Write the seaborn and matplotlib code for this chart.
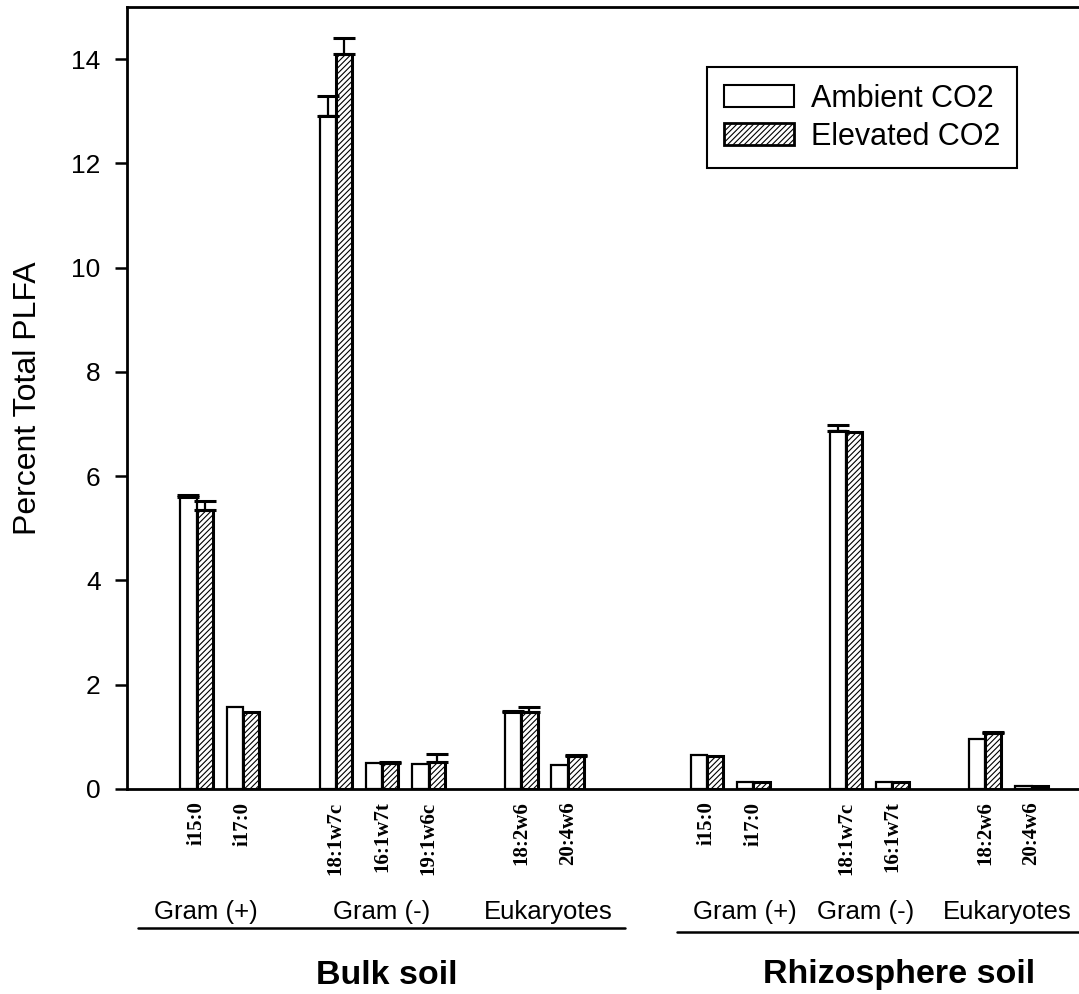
"""
PLFA markers, ambient vs elevated CO2, bulk and rhizosphere soil.
Grouped bars drawn with seaborn; gaps between groups are empty categories.
"""

import matplotlib
matplotlib.use("Agg")
import matplotlib.pyplot as plt
from matplotlib.patches import Patch
from matplotlib.lines import Line2D
import numpy as np
import pandas as pd
import seaborn as sns

# ── data ────────────────────────────────────────────────────────────────────
# slot keys, "" entries are the empty gaps between groups
SLOTS = [
    "b_i15:0", "b_i17:0", "",
    "b_18:1w7c", "b_16:1w7t", "b_19:1w6c", "",
    "b_18:2w6", "b_20:4w6", "", "",
    "r_i15:0", "r_i17:0", "",
    "r_18:1w7c", "r_16:1w7t", "",
    "r_18:2w6", "r_20:4w6",
]
MARKERS = [
    "b_i15:0", "b_i17:0", "b_18:1w7c", "b_16:1w7t", "b_19:1w6c",
    "b_18:2w6", "b_20:4w6",
    "r_i15:0", "r_i17:0", "r_18:1w7c", "r_16:1w7t", "r_18:2w6", "r_20:4w6",
]
TICK_LABELS = [
    "i15:0", "i17:0", "18:1w7c", "16:1w7t", "19:1w6c", "18:2w6", "20:4w6",
    "i15:0", "i17:0", "18:1w7c", "16:1w7t", "18:2w6", "20:4w6",
]
AMBIENT      = [5.60, 1.58, 12.90, 0.49, 0.47, 1.47, 0.46,
                0.65, 0.14, 6.86, 0.14, 0.95, 0.06]
ELEVATED     = [5.35, 1.47, 14.10, 0.49, 0.52, 1.47, 0.63,
                0.63, 0.14, 6.84, 0.14, 1.07, 0.06]
AMBIENT_ERR  = [0.03, 0.00, 0.40, 0.00, 0.00, 0.02, 0.00,
                0.00, 0.00, 0.12, 0.00, 0.00, 0.00]
ELEVATED_ERR = [0.17, 0.00, 0.30, 0.02, 0.15, 0.10, 0.03,
                0.00, 0.00, 0.00, 0.00, 0.02, 0.00]
SERIES = ["Ambient CO2", "Elevated CO2"]

GROUP_LABELS = ["Gram (+)", "Gram (-)", "Eukaryotes",
                "Gram (+)", "Gram (-)", "Eukaryotes"]
SOIL_LABELS = ["Bulk soil", "Rhizosphere soil"]

# ── layout ──────────────────────────────────────────────────────────────────
W, H = 1079, 994
# gap keys must be unique for seaborn's order
order = [s if s else f"gap{i}" for i, s in enumerate(SLOTS)]

df = pd.DataFrame({
    "marker": MARKERS * 2,
    "treatment": [SERIES[0]] * len(MARKERS) + [SERIES[1]] * len(MARKERS),
    "value": AMBIENT + ELEVATED,
    "err": AMBIENT_ERR + ELEVATED_ERR,
})

sns.set_theme(style="white")
plt.rcParams["font.family"] = ["Liberation Sans", "DejaVu Sans"]
plt.rcParams["hatch.linewidth"] = 0.8
for key in ["text.color", "axes.labelcolor", "xtick.color", "ytick.color"]:
    plt.rcParams[key] = "black"

fig = plt.figure(figsize=(W / 100, H / 100), dpi=100)
ax = fig.add_axes([127 / W, 1 - 789 / H, (1078 - 127) / W, (789 - 7) / H])

sns.barplot(
    data=df, x="marker", y="value", hue="treatment",
    order=order, hue_order=SERIES,
    palette={SERIES[0]: "white", SERIES[1]: "white"},
    width=0.70, gap=0, errorbar=None, legend=False,
    edgecolor="black", linewidth=1.6, ax=ax,
)

# hatch the elevated bars, add one-sided error bars
for cont, s in zip(ax.containers, SERIES):
    sub = df[df["treatment"] == s].set_index("marker").loc[MARKERS]
    for patch, (_, row) in zip(cont.patches, sub.iterrows()):
        if s == SERIES[1]:
            patch.set_hatch("//////")
            patch.set_linewidth(2.2)
        if row["err"] > 0:
            xc = patch.get_x() + patch.get_width() / 2
            ax.errorbar(xc, row["value"], yerr=[[0], [row["err"]]],
                        fmt="none", ecolor="black", elinewidth=1.6,
                        capsize=8, capthick=2.2, zorder=3)

ax.set_xlim(-1.5, 19.0)
ax.set_ylim(0, 15)
ax.set_yticks(np.arange(0, 15, 2))
ax.tick_params(axis="y", direction="out", length=9, width=1.8,
               labelsize=19, pad=10, left=True, colors="black")
ax.set_xticks([order.index(m) for m in MARKERS])
ax.set_xticklabels(TICK_LABELS, rotation=90, fontsize=15,
                   family="Liberation Serif", fontweight="bold")
ax.tick_params(axis="x", length=0, pad=9)
ax.set_xlabel("")
ax.set_ylabel("Percent Total PLFA", fontsize=23)
ax.yaxis.set_label_coords(-0.088, 0.5)

for side in ["left", "top", "bottom"]:
    ax.spines[side].set_color("black")
    ax.spines[side].set_linewidth(2)
ax.spines["right"].set_visible(False)

leg = ax.legend(
    handles=[Patch(facecolor="white", edgecolor="black", linewidth=1.5),
             Patch(facecolor="white", edgecolor="black", linewidth=2,
                   hatch="//////")],
    labels=SERIES, loc="upper right", bbox_to_anchor=(0.936, 0.923),
    borderaxespad=0, fontsize=22, frameon=True, fancybox=False,
    framealpha=1, edgecolor="black", handlelength=2.3, handleheight=0.72,
    handletextpad=0.55, labelspacing=0.25, borderpad=0.55,
)
leg.get_frame().set_linewidth(1.5)

# category labels and underlines below the axis (pixel positions)
group_x = [206, 382, 548, 745, 866, 1007]
for gx, lab in zip(group_x, GROUP_LABELS):
    fig.text(gx / W, 1 - 912 / H, lab, ha="center", va="center", fontsize=18.5)
for x0, x1, y in [(138, 625, 928), (677, 1079, 932)]:
    fig.add_artist(Line2D([x0 / W, x1 / W], [1 - y / H] * 2,
                          color="black", linewidth=1.8))
for sx, lab in zip([387, 899], SOIL_LABELS):
    fig.text(sx / W, 1 - 975 / H, lab, ha="center", va="center",
             fontsize=24.5, fontweight="bold")

fig.savefig("out.png", dpi=100)
